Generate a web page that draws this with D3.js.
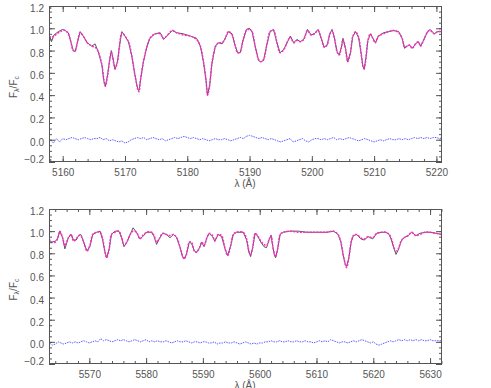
<!DOCTYPE html>
<html><head><meta charset="utf-8">
<script src="https://cdn.jsdelivr.net/npm/d3@7"></script>
<style>body{margin:0;background:#fff}svg{display:block}text{font-family:"Liberation Sans",Arial,sans-serif;fill:#555}</style>
</head><body><div id="c"></div>
<script>
// ---------- Panel 1 data (5158-5221 Å) ----------
const wl1 = [5157.8,5158.2,5158.6,5159.3,5160.0,5160.4,5160.9,5161.3,5161.7,5162.0,5162.35,5162.8,5163.3,5163.95,5164.66,5165.2,5165.7,5166.3,5166.6,5166.85,5167.2,5167.5,5167.8,5168.0,5168.4,5168.8,5169.1,5169.5,5170.0,5170.55,5171.1,5171.6,5172.06,5172.25,5172.5,5172.96,5173.5,5174.0,5174.8,5175.65,5176.2,5176.7,5177.6,5178.3,5179.4,5180.5,5181.5,5182.1,5182.6,5183.0,5183.25,5183.6,5183.95,5184.5,5185.0,5185.6,5186.1,5186.6,5187.2,5187.7,5188.1,5188.5,5188.95,5189.5,5190.0,5190.4,5190.9,5191.45,5191.8,5192.25,5192.8,5193.3,5193.85,5194.4,5194.9,5195.5,5196.1,5196.55,5197.1,5197.6,5198.15,5198.7,5199.3,5199.87,5200.4,5201.0,5201.5,5202.0,5202.45,5202.9,5203.25,5203.6,5204.05,5204.4,5204.75,5205.0,5205.4,5205.75,5206.2,5206.55,5207.0,5207.5,5207.9,5208.2,5208.4,5208.7,5209.0,5209.4,5209.8,5210.2,5210.7,5211.5,5212.35,5213.15,5213.95,5214.5,5214.9,5215.3,5215.7,5216.1,5216.65,5217.1,5217.45,5218.0,5218.6,5219.0,5219.65,5220.2,5220.9];
const model1 = [0.93,0.92,0.93,0.96,0.98,0.98,0.95,0.88,0.80,0.80,0.87,0.96,0.93,0.87,0.84,0.83,0.79,0.67,0.54,0.48,0.57,0.70,0.79,0.75,0.64,0.70,0.83,0.96,0.93,0.88,0.75,0.58,0.45,0.43,0.54,0.70,0.83,0.91,0.95,0.95,0.91,0.93,0.98,0.96,0.94,0.93,0.90,0.84,0.70,0.54,0.40,0.49,0.68,0.83,0.87,0.87,0.91,0.97,0.94,0.84,0.78,0.79,0.89,0.98,0.99,0.97,0.84,0.72,0.70,0.72,0.86,0.97,0.98,0.87,0.78,0.81,0.88,0.92,0.87,0.89,0.88,0.90,0.98,0.94,0.95,0.98,0.91,0.83,0.85,0.95,0.98,0.92,0.79,0.76,0.83,0.90,0.82,0.70,0.78,0.92,0.97,0.92,0.78,0.66,0.64,0.74,0.89,0.95,0.91,0.87,0.93,0.95,0.97,0.98,0.96,0.91,0.83,0.84,0.85,0.82,0.86,0.88,0.84,0.90,0.97,0.98,0.95,0.97,0.97];
const obs1 = [0.95,0.88,0.94,0.97,0.99,0.98,0.96,0.88,0.80,0.79,0.87,0.97,0.93,0.87,0.84,0.86,0.79,0.67,0.53,0.48,0.58,0.70,0.80,0.75,0.63,0.70,0.84,0.97,0.93,0.88,0.75,0.58,0.45,0.44,0.54,0.70,0.83,0.91,0.95,0.96,0.90,0.93,0.98,0.96,0.95,0.93,0.91,0.84,0.70,0.54,0.40,0.49,0.68,0.84,0.87,0.86,0.91,0.97,0.95,0.84,0.78,0.78,0.89,0.99,1.00,0.97,0.84,0.71,0.70,0.71,0.86,0.97,0.99,0.87,0.78,0.81,0.88,0.93,0.87,0.90,0.88,0.90,0.99,0.94,0.95,0.99,0.91,0.83,0.85,0.95,0.99,0.92,0.79,0.76,0.83,0.91,0.82,0.70,0.78,0.92,0.97,0.92,0.78,0.66,0.63,0.74,0.89,0.95,0.91,0.87,0.93,0.96,0.97,0.98,0.97,0.91,0.82,0.84,0.85,0.82,0.86,0.88,0.84,0.90,0.97,0.99,0.95,0.97,0.97];
const res1 = [0.00,-0.03,0.01,-0.02,0.01,0.00,0.01,0.02,0.01,0.00,0.01,0.02,0.01,0.00,0.01,0.01,0.02,0.00,0.01,-0.01,0.00,-0.01,-0.02,-0.01,-0.03,-0.02,0.00,0.01,0.02,0.01,0.02,0.00,0.01,0.02,0.01,0.00,0.01,-0.01,0.00,0.01,0.02,0.01,0.02,0.03,0.02,0.01,0.02,0.01,0.00,0.01,0.00,-0.01,0.00,0.01,0.00,0.00,0.01,0.00,-0.01,0.00,0.01,0.02,0.01,0.03,0.04,0.03,0.02,0.01,0.02,0.01,0.00,0.01,0.00,-0.01,-0.02,-0.01,0.00,0.01,-0.02,-0.01,0.00,0.01,-0.01,-0.02,0.00,0.01,0.01,0.00,0.01,0.00,0.01,0.02,0.00,0.01,0.00,0.01,0.02,0.01,0.00,-0.01,0.00,0.01,0.00,-0.01,-0.02,-0.01,0.00,-0.01,0.00,0.01,0.00,0.00,0.01,0.00,0.01,0.00,0.01,0.02,0.01,0.02,0.01,0.02,0.01,0.02,0.02,0.01,0.02];
const resStart1 = 5158.0;

// ---------- Panel 2 data (5563-5632 Å) ----------
const wl2 = [5562.9,5563.4,5564.0,5564.4,5564.8,5565.3,5565.7,5566.3,5566.8,5567.2,5567.7,5568.1,5568.5,5569.0,5569.6,5570.1,5570.6,5571.3,5571.9,5572.35,5572.76,5573.06,5573.5,5573.9,5574.5,5575.2,5575.7,5576.1,5576.6,5577.2,5577.7,5578.3,5578.9,5579.4,5580.1,5580.98,5581.4,5581.85,5582.3,5582.9,5583.6,5584.2,5584.8,5585.4,5586.0,5586.4,5586.7,5587.1,5587.6,5588.0,5588.5,5588.9,5589.4,5589.8,5590.2,5590.7,5591.1,5591.7,5592.1,5592.7,5593.3,5593.9,5594.36,5594.9,5595.35,5595.9,5597.1,5597.7,5598.1,5598.4,5598.76,5599.2,5599.6,5600.2,5600.75,5601.2,5601.7,5602.0,5602.3,5602.6,5602.8,5603.16,5603.6,5604.15,5605.3,5606.8,5608.3,5610.0,5611.8,5613.0,5613.8,5614.3,5614.7,5615.07,5615.3,5615.7,5616.1,5616.5,5617.1,5617.8,5618.4,5619.1,5619.9,5620.6,5621.5,5622.2,5622.8,5623.2,5623.6,5624.0,5624.4,5624.9,5625.4,5626.15,5626.75,5627.5,5628.2,5629.1,5630.0,5631.1,5632.0];
const model2 = [0.93,0.90,0.90,0.93,1.00,0.94,0.87,0.94,0.97,0.91,0.93,0.96,0.96,0.90,0.82,0.87,0.97,0.99,0.99,0.93,0.81,0.76,0.84,0.97,0.99,1.00,0.94,0.87,0.90,0.97,1.00,0.99,0.93,0.96,0.99,0.99,0.96,0.90,0.93,0.98,0.97,0.96,0.97,0.94,0.85,0.78,0.75,0.79,0.90,0.90,0.82,0.81,0.85,0.90,0.87,0.94,0.98,0.96,0.91,0.97,0.96,0.84,0.78,0.87,0.97,0.99,0.99,0.93,0.82,0.79,0.85,0.98,0.96,0.91,0.88,0.87,0.93,0.96,0.87,0.79,0.77,0.84,0.97,0.99,1.00,0.99,0.99,0.99,0.99,1.00,0.97,0.90,0.79,0.70,0.67,0.76,0.90,0.96,0.97,0.94,0.93,0.95,0.94,0.98,0.99,0.99,0.97,0.93,0.86,0.82,0.84,0.91,0.94,0.96,0.99,0.96,0.97,0.99,0.99,0.98,0.97];
const obs2 = [0.92,0.90,0.91,0.93,1.00,0.94,0.84,0.94,0.97,0.92,0.92,0.96,0.97,0.90,0.82,0.86,0.97,0.99,1.00,0.92,0.81,0.76,0.84,0.97,1.00,1.00,0.94,0.86,0.90,0.97,1.03,0.99,0.93,0.95,0.99,0.99,0.95,0.88,0.93,0.98,0.97,0.94,0.97,0.94,0.85,0.77,0.75,0.79,0.90,0.89,0.82,0.81,0.85,0.90,0.86,0.94,0.98,0.95,0.91,0.97,0.95,0.84,0.78,0.87,0.97,0.99,0.99,0.92,0.81,0.77,0.85,0.98,0.96,0.90,0.86,0.85,0.93,0.96,0.86,0.78,0.76,0.84,0.97,0.99,1.00,1.00,0.99,0.99,0.99,1.00,0.97,0.90,0.78,0.70,0.68,0.76,0.90,0.96,0.97,0.93,0.92,0.95,0.93,0.98,0.99,0.99,0.97,0.92,0.85,0.79,0.83,0.91,0.94,0.96,0.99,0.96,0.98,0.99,0.99,0.98,0.97];
const res2 = [-0.01,-0.03,-0.02,0.00,-0.01,-0.02,-0.01,0.00,-0.01,0.00,-0.01,0.00,0.01,0.00,-0.01,0.00,0.01,0.00,0.03,0.01,0.02,0.01,0.00,0.01,0.02,0.01,0.02,0.01,0.00,0.01,0.02,0.01,0.00,0.01,0.02,0.00,0.01,0.00,0.01,0.00,0.00,0.01,0.00,-0.01,0.00,0.01,0.00,0.00,0.01,0.00,-0.01,0.00,0.00,-0.01,0.00,0.00,-0.01,-0.01,0.00,-0.02,-0.01,-0.01,0.00,-0.01,-0.01,0.00,-0.01,-0.02,-0.01,0.00,-0.01,-0.02,-0.01,-0.02,-0.01,-0.01,0.00,0.00,0.01,0.00,0.00,0.01,0.00,0.00,0.01,0.00,0.00,0.01,0.00,0.00,0.01,0.00,0.00,-0.01,0.00,0.01,0.00,0.01,0.00,0.02,0.01,0.00,-0.01,0.00,0.00,-0.01,0.00,0.01,0.00,0.01,0.02,0.01,0.00,-0.01,0.00,-0.02,-0.03,-0.02,-0.01,0.00,0.01,0.00,0.01,0.02,0.01,0.02,0.01,0.02,0.01,0.02,0.01,0.02,0.01,0.01,0.02,0.01,0.01,0.01,0.01];
const resStart2 = 5563.0;

const xTicks1 = [5160,5170,5180,5190,5200,5210,5220];
const xTicks2 = [5570,5580,5590,5600,5610,5620,5630];
const yTicks = [-0.2,0.0,0.2,0.4,0.6,0.8,1.0,1.2];

const W = 491, H = 388;
const svg = d3.select("#c").append("svg").attr("width", W).attr("height", H);

function panel(o) {
  const x = d3.scaleLinear().domain(o.xd).range([49, 442]);
  const y = d3.scaleLinear().domain([-0.2, 1.2]).range([o.y1, o.y0]);
  const g = svg.append("g");
  const cp = "clip" + o.id;
  g.append("clipPath").attr("id", cp).append("rect")
    .attr("x", 49).attr("y", o.y0).attr("width", 393).attr("height", o.y1 - o.y0);
  const pg = g.append("g").attr("clip-path", `url(#${cp})`);

  const resPts = o.res.map((v, i) => [o.resStart + i * 0.5, v]);
  pg.append("path").datum(resPts)
    .attr("d", d3.line().x(d => x(d[0])).y(d => y(d[1])))
    .attr("fill", "none").attr("stroke", "#5a5aff").attr("stroke-width", 1)
    .attr("stroke-dasharray", "1.5 1");

  const obsPts = o.wl.map((w, i) => [w, o.obs[i]]);
  pg.append("path").datum(obsPts)
    .attr("d", d3.line().x(d => x(d[0])).y(d => y(d[1])))
    .attr("fill", "none").attr("stroke", "#444").attr("stroke-width", 0.9);

  const modPts = o.wl.map((w, i) => [w, o.model[i]]);
  pg.append("path").datum(modPts)
    .attr("d", d3.line().curve(d3.curveCatmullRom).x(d => x(d[0])).y(d => y(d[1])))
    .attr("fill", "none").attr("stroke", "#ff2ac8").attr("stroke-width", 1.5)
    .attr("stroke-dasharray", "2 1.3");

  // frame
  g.append("rect").attr("x", 49.5).attr("y", o.y0 + 0.5).attr("width", 392)
    .attr("height", o.y1 - o.y0 - 1).attr("fill", "none").attr("stroke", "#555");

  const axCol = "#555";
  const xMinor = d3.range(Math.ceil(o.xd[0] / 2) * 2, o.xd[1], 2);
  const yMinor = d3.range(-0.2, 1.2001, 0.05);
  const xb = d3.axisBottom(x).tickValues(xMinor).tickSize(-3).tickFormat("");
  g.append("g").attr("transform", `translate(0,${o.y1})`).call(xb);
  const xt = d3.axisTop(x).tickValues(xMinor).tickSize(-3).tickFormat("");
  g.append("g").attr("transform", `translate(0,${o.y0})`).call(xt);
  const xbM = d3.axisBottom(x).tickValues(o.xt).tickSize(-6).tickPadding(7).tickFormat(d3.format("d"));
  g.append("g").attr("class", "xl").attr("transform", `translate(0,${o.y1})`).call(xbM);
  const xtM = d3.axisTop(x).tickValues(o.xt).tickSize(-6).tickFormat("");
  g.append("g").attr("transform", `translate(0,${o.y0})`).call(xtM);
  const yl = d3.axisLeft(y).tickValues(yMinor).tickSize(-3).tickFormat("");
  g.append("g").attr("transform", "translate(49,0)").call(yl);
  const yr = d3.axisRight(y).tickValues(yMinor).tickSize(-3).tickFormat("");
  g.append("g").attr("transform", "translate(442,0)").call(yr);
  const ylM = d3.axisLeft(y).tickValues(yTicks).tickSize(-6).tickPadding(5).tickFormat(d3.format(".1f"));
  g.append("g").attr("class", "yl").attr("transform", "translate(49,0)").call(ylM);
  const yrM = d3.axisRight(y).tickValues(yTicks).tickSize(-6).tickFormat("");
  g.append("g").attr("transform", "translate(442,0)").call(yrM);

  g.selectAll(".domain").remove();
  g.selectAll(".tick line").attr("stroke", axCol);
  g.selectAll(".xl text").attr("font-size", 10).attr("fill", "#555");
  g.selectAll(".yl text").attr("font-size", 10).attr("fill", "#555")
    .attr("dy", d => d < -0.1 ? "0.05em" : "0.55em")
    .text(d => d3.format(".1f")(d).replace("-", "\u2212"));

  g.append("text").attr("x", 245).attr("y", o.y1 + 25).attr("text-anchor", "middle")
    .attr("font-size", 10).text("\u03bb (\u00c5)");
  const yt = g.append("text").attr("transform", `translate(17,${(o.y0 + o.y1) / 2 + 3}) rotate(-90)`)
    .attr("text-anchor", "middle").attr("font-size", 10);
  yt.append("tspan").text("F");
  yt.append("tspan").attr("font-size", 7).attr("dy", 2).text("\u03bb");
  yt.append("tspan").attr("dy", -2).text("/F");
  yt.append("tspan").attr("font-size", 7).attr("dy", 2).text("c");
}

panel({id: 1, xd: [5157.8, 5220.9], y0: 6, y1: 162, wl: wl1, model: model1, obs: obs1, res: res1, resStart: resStart1, xt: xTicks1});
panel({id: 2, xd: [5562.9, 5632.1], y0: 209, y1: 364, wl: wl2, model: model2, obs: obs2, res: res2, resStart: resStart2, xt: xTicks2});
</script></body></html>
